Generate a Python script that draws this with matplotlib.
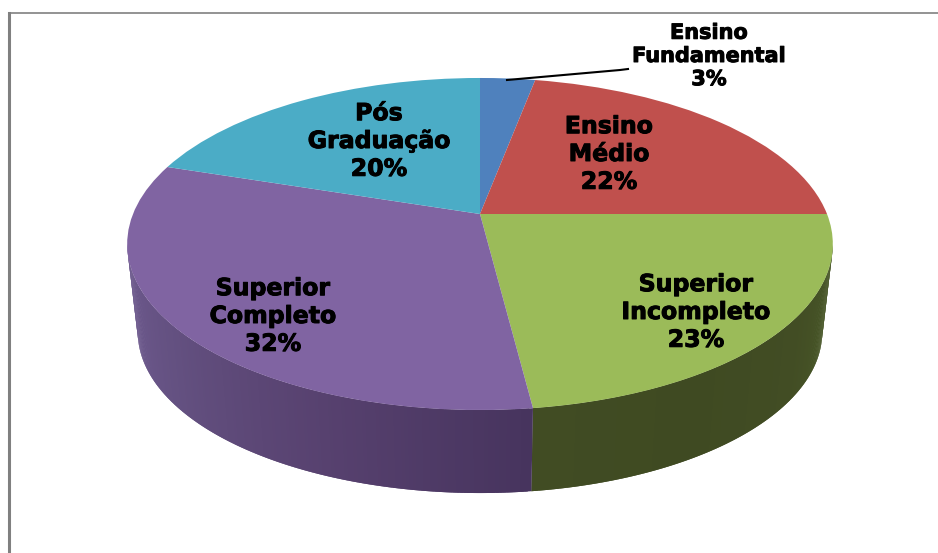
import numpy as np
import matplotlib
matplotlib.use("Agg")
import matplotlib.pyplot as plt
import matplotlib.patheffects as pe
from matplotlib.colors import LinearSegmentedColormap
from matplotlib.path import Path
from matplotlib.transforms import Transform

categories = ["Ensino\nFundamental", "Ensino\nMédio", "Superior\nIncompleto",
              "Superior\nCompleto", "Pós\nGraduação"]
values = [3, 22, 23, 32, 20]
colors = ["#4F81BD", "#C0504D", "#9BBB59", "#8064A2", "#4BACC6"]
# wall shades, from the right end of each slice to its left end
wall_colors = {
    2: ["#4A5A29", "#424D24", "#3F4A22", "#414C23"],
    3: ["#47345E", "#57416F", "#635080", "#6F5B90"],
}

label_x = [709, 609, 696, 273, 379]
label_y = [56, 154, 312, 316, 141]
label_size = [15, 17, 17, 17, 17]

# pie look: pixels of the tilted disc
cx, cy = 480, 214
a, h, k = 347, 160.6, 0.1807
ell_y = 244
depth = 88
shrink = 0.97


def project(u, v):
    d = 1 + k * v
    return cx + a * u / d, cy - h * v / d


class Tilt(Transform):
    input_dims = 2
    output_dims = 2

    def transform_non_affine(self, xy):
        x, y = project(xy[:, 0], xy[:, 1])
        return np.column_stack([x, y])

    def transform_path_non_affine(self, path):
        return Path(self.transform_non_affine(path.vertices), path.codes)


fig = plt.figure(figsize=(9.38, 5.53), dpi=100)
ax = fig.add_axes([0, 0, 1, 1])

wedges, _ = ax.pie(values, colors=colors, startangle=90, counterclock=False,
                   radius=1, wedgeprops={"linewidth": 0})
tilt = Tilt()
for w in wedges:
    w.set_transform(tilt + ax.transData)
    w.set_zorder(3)
    w.set_clip_on(False)

# side wall, one strip per small angle step, each one overlapped by the next
limit = np.degrees(np.arccos(k))
start = 90 + (90 - limit)
edges = np.cumsum(values) / sum(values) * 360
lo = 0
for i, hi in enumerate(edges):
    if i in wall_colors:
        t0, t1 = max(lo, start), min(hi, 360 - start)
        cmap = LinearSegmentedColormap.from_list("w", wall_colors[i])
        steps = np.linspace(t0, t1, int((t1 - t0) * 2) + 1)
        for n, s0 in enumerate(steps[:-1]):
            s1 = steps[min(n + 2, len(steps) - 1)]
            th = np.radians(np.linspace(s0, s1, 4))
            xt, yt = project(np.sin(th), np.cos(th))
            xb = cx + shrink * (xt - cx)
            yb = ell_y + depth + shrink * (yt - ell_y)
            shade = cmap((s0 - t0) / (t1 - t0))
            ax.fill(np.r_[xt, xb[::-1]], np.r_[yt, yb[::-1]],
                    color=shade, lw=0, zorder=2, clip_on=False)
    lo = hi

ax.set_aspect("auto")
ax.set_xlim(0, 938)
ax.set_ylim(553, 0)
ax.axis("off")

for name, v, x, y, size in zip(categories, values, label_x, label_y, label_size):
    ax.text(x, y, f"{name}\n{v}%", ha="center", va="center", fontsize=size,
            fontweight="bold", color="black", linespacing=1.2, zorder=5,
            family="DejaVu Sans",
            path_effects=[pe.withStroke(linewidth=0.7, foreground="black")])

# leader line of the small slice
ax.plot([507, 620, 628], [80, 70, 69], color="black", lw=1.5, zorder=4)

# chart frame, top and left only
ax.plot([9, 938], [12.5, 12.5], color="#808080", lw=1.2, zorder=1, clip_on=False)
ax.plot([9, 9], [12.5, 553], color="#808080", lw=2.2, zorder=1, clip_on=False)

fig.savefig("out.png", dpi=100)
